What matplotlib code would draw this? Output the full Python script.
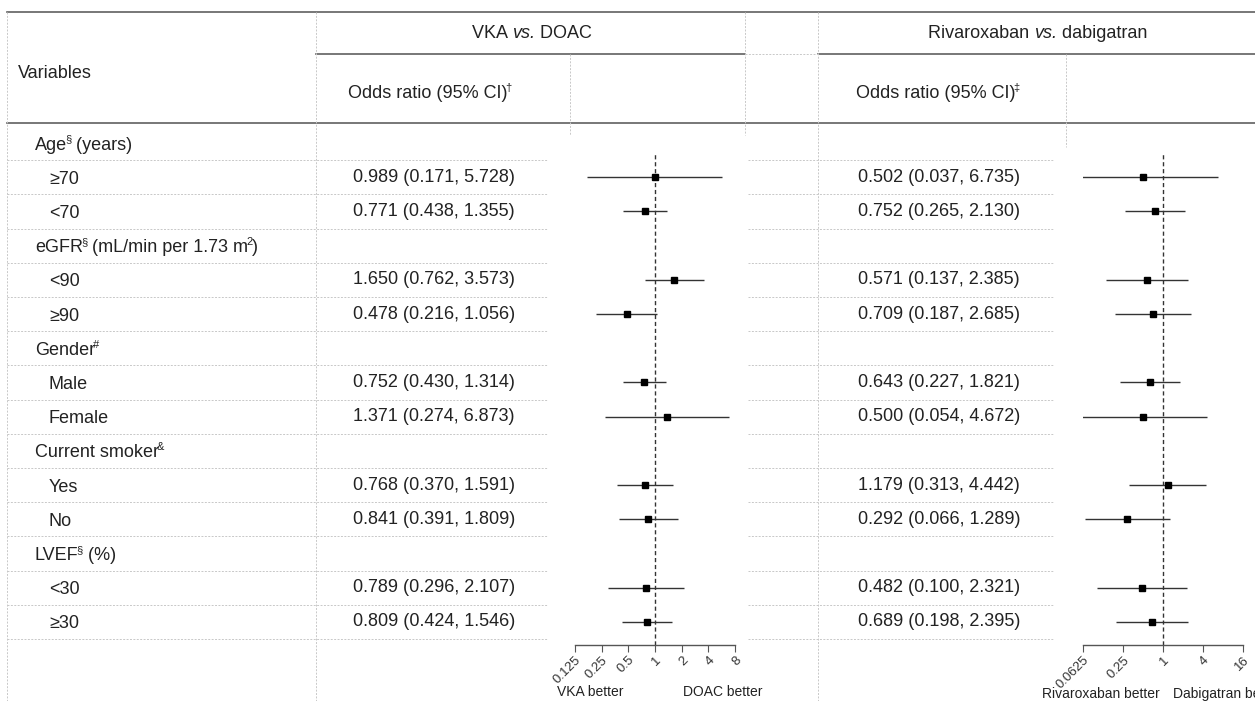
import numpy as np
import matplotlib.pyplot as plt

# rows of the table (group headers have no estimate); pieces: (text, style)
row_labels = [[('Age', ''), ('\u00a7', 'sup'), (' (years)', '')],
              [('\u226570', '')], [('<70', '')],
              [('eGFR', ''), ('\u00a7', 'sup'), (' (mL/min per 1.73 m', ''), ('2', 'sup'), (')', '')],
              [('<90', '')], [('\u226590', '')],
              [('Gender', ''), ('#', 'sup')],
              [('Male', '')], [('Female', '')],
              [('Current smoker', ''), ('&', 'sup')],
              [('Yes', '')], [('No', '')],
              [('LVEF', ''), ('\u00a7', 'sup'), (' (%)', '')],
              [('<30', '')], [('\u226530', '')]]
is_group = [1, 0, 0, 1, 0, 0, 1, 0, 0, 1, 0, 0, 1, 0, 0]

# VKA vs. DOAC
vka_or = [0.989, 0.771, 1.650, 0.478, 0.752, 1.371, 0.768, 0.841, 0.789, 0.809]
vka_lo = [0.171, 0.438, 0.762, 0.216, 0.430, 0.274, 0.370, 0.391, 0.296, 0.424]
vka_hi = [5.728, 1.355, 3.573, 1.056, 1.314, 6.873, 1.591, 1.809, 2.107, 1.546]
vka_ticks = [0.125, 0.25, 0.5, 1, 2, 4, 8]
vka_ticklabels = ['0.125', '0.25', '0.5', '1', '2', '4', '8']

# Rivaroxaban vs. dabigatran
riv_or = [0.502, 0.752, 0.571, 0.709, 0.643, 0.500, 1.179, 0.292, 0.482, 0.689]
riv_lo = [0.037, 0.265, 0.137, 0.187, 0.227, 0.054, 0.313, 0.066, 0.100, 0.198]
riv_hi = [6.735, 2.130, 2.385, 2.685, 1.821, 4.672, 4.442, 1.289, 2.321, 2.395]
riv_ticks = [0.0625, 0.25, 1, 4, 16]
riv_ticklabels = ['0.0625', '0.25', '1', '4', '16']

plt.rcParams['font.family'] = ['Liberation Sans', 'DejaVu Sans']

W, H = 1255, 701
fig = plt.figure(figsize=(W / 100, H / 100), dpi=100)
bg = fig.add_axes([0, 0, 1, 1])
bg.set_xlim(0, W)
bg.set_ylim(H, 0)
bg.axis('off')

txt = '#222222'
fs = 13
solid = dict(color='#606060', lw=1.2)
dot = dict(color='#c8c8c8', lw=0.7, ls=(0, (2, 1.5)))


def rich(x, y, pieces, size=fs):
    # y is the visual centre of the line; write pieces one after the other on a shared baseline
    base = y + 6.5
    prev = None
    for s, style in pieces:
        kw = dict(color=txt, ha='left', va='baseline',
                  fontsize=8 if style == 'sup' else size,
                  style='italic' if style == 'it' else 'normal')
        yb = base - 7 if style == 'sup' else base
        if prev is None:
            prev = bg.text(x, yb, s, **kw)
        else:
            dx = -1.5 if style == 'sup' else 0
            prev = bg.annotate(s, xy=(1, yb), xycoords=(prev, 'data'),
                               xytext=(dx, 0), textcoords='offset points', **kw)
    return prev


row0, dy = 143, 34.21
row_y = [row0 + dy * i for i in range(len(row_labels))]

# table rules
bg.plot([7, W], [12, 12], **solid)
bg.plot([316, 745], [54, 54], **solid)
bg.plot([818, W], [54, 54], **solid)
bg.plot([7, W], [123, 123], **solid)
bg.plot([745, 818], [54, 54], **dot)
for x, y0, y1 in [(7, 12, H), (316, 12, H), (818, 12, H),
                  (745, 12, 135), (570, 54, 135), (1066, 54, 147)]:
    bg.plot([x, x], [y0, y1], **dot)
for y in row_y:
    bg.plot([7, 548], [y + dy / 2, y + dy / 2], **dot)
    bg.plot([748, 1054], [y + dy / 2, y + dy / 2], **dot)

# headers
rich(472, 32, [('VKA ', ''), ('vs.', 'it'), (' DOAC', '')])
rich(928, 32, [('Rivaroxaban ', ''), ('vs.', 'it'), (' dabigatran', '')])
rich(18, 72, [('Variables', '')])
rich(348, 92, [('Odds ratio (95% CI)', ''), ('\u2020', 'sup')])
rich(856, 92, [('Odds ratio (95% CI)', ''), ('\u2021', 'sup')])

# row labels and estimate text
sub_rows = [i for i, g in enumerate(is_group) if not g]
for i, lab in enumerate(row_labels):
    rich(35 if is_group[i] else 49, row_y[i], lab)
for k, i in enumerate(sub_rows):
    bg.text(434, row_y[i], f'{vka_or[k]:.3f} ({vka_lo[k]:.3f}, {vka_hi[k]:.3f})',
            ha='center', va='center', fontsize=fs, color=txt)
    bg.text(939, row_y[i], f'{riv_or[k]:.3f} ({riv_lo[k]:.3f}, {riv_hi[k]:.3f})',
            ha='center', va='center', fontsize=fs, color=txt)


def forest(x0, x1, est, lo, hi, ticks, ticklabels, xlim):
    top, bottom = 153, 645
    ax = fig.add_axes([x0 / W, (H - bottom) / H, (x1 - x0) / W, (bottom - top) / H])
    ax.patch.set_alpha(0)
    ax.set_xscale('log', base=2)
    ax.set_xlim(*xlim)
    ax.set_ylim((bottom - row0) / dy, (top - row0) / dy)
    yy = [sub_rows[k] for k in range(len(est))]
    ax.hlines(yy, lo, hi, color='#333333', lw=1.0)
    ax.plot(est, yy, 's', color='black', ms=5, zorder=3)
    ax.axvline(1, color='#333333', lw=1.0, ls=(0, (3, 2)))
    for s in ['top', 'left', 'right']:
        ax.spines[s].set_visible(False)
    ax.spines['bottom'].set_color('#555555')
    ax.spines['bottom'].set_linewidth(1.0)
    ax.set_yticks([])
    ax.set_xticks(ticks)
    ax.set_xticklabels(ticklabels, rotation=45, ha='right', rotation_mode='anchor',
                       fontsize=9.5, color='#333333')
    ax.xaxis.set_minor_locator(plt.NullLocator())
    ax.tick_params(axis='x', direction='out', length=5, color='#555555', pad=1.5)
    return ax


forest(575, 735, vka_or, vka_lo, vka_hi, vka_ticks, vka_ticklabels, (0.125, 8))
forest(1083, 1243, riv_or, riv_lo, riv_hi, riv_ticks, riv_ticklabels, (0.0625, 16))

bg.text(557, 692, 'VKA better', ha='left', va='center', fontsize=10, color=txt)
bg.text(683, 692, 'DOAC better', ha='left', va='center', fontsize=10, color=txt)
bg.text(1042, 694, 'Rivaroxaban better', ha='left', va='center', fontsize=10, color=txt)
bg.text(1173, 694, 'Dabigatran better', ha='left', va='center', fontsize=10, color=txt)

fig.savefig('out.png', dpi=100)
